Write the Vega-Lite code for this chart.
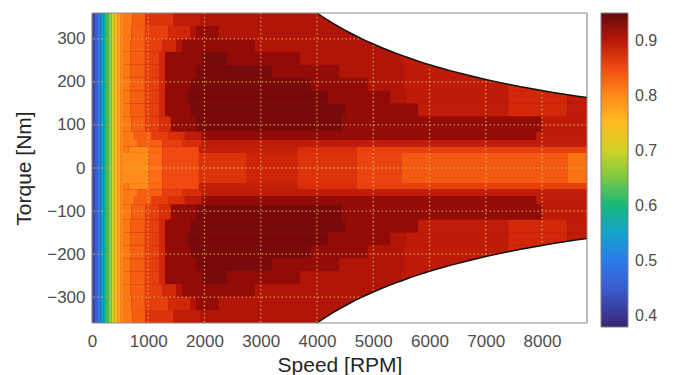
{
  "$schema": "https://vega.github.io/schema/vega-lite/v6.json",
  "width": 495,
  "height": 310,
  "autosize": {"type": "none"},
  "padding": {"left": 92, "top": 13, "right": 87, "bottom": 52},
  "background": "white",
  "config": {
    "view": {"stroke": null, "fill": "#a8140a"},
    "font": "Liberation Sans",
    "axis": {"labelFont": "Liberation Sans", "labelFontSize": 17, "labelColor": "#4d4d4d", "titleFont": "Liberation Sans", "titleFontSize": 21, "titleFontWeight": "normal", "titleColor": "#262626", "ticks": false, "domain": false, "grid": false, "labelFlush": false},
    "legend": {"labelFont": "Liberation Sans"}
  },
  "datasets": {
    "cells": [
      {"s0":0,"s1":50,"t0":-360,"t1":360,"e":0.42},
      {"s0":50,"s1":100,"t0":-360,"t1":360,"e":0.46},
      {"s0":100,"s1":150,"t0":-360,"t1":360,"e":0.50},
      {"s0":150,"s1":200,"t0":-360,"t1":360,"e":0.54},
      {"s0":200,"s1":250,"t0":-360,"t1":360,"e":0.58},
      {"s0":250,"s1":300,"t0":-360,"t1":360,"e":0.625},
      {"s0":300,"s1":350,"t0":-360,"t1":360,"e":0.665},
      {"s0":350,"s1":400,"t0":-360,"t1":360,"e":0.70},
      {"s0":400,"s1":450,"t0":-360,"t1":360,"e":0.745},
      {"s0":450,"s1":500,"t0":-360,"t1":360,"e":0.775},
      {"s0":500,"s1":550,"t0":-360,"t1":360,"e":0.80},

      {"s0":550,"s1":1000,"t0":-35,"t1":35,"e":0.80},
      {"s0":1000,"s1":1250,"t0":-35,"t1":35,"e":0.825},
      {"s0":1250,"s1":1900,"t0":-35,"t1":35,"e":0.85},
      {"s0":1900,"s1":2750,"t0":-35,"t1":35,"e":0.87},
      {"s0":2750,"s1":3650,"t0":-35,"t1":35,"e":0.885},
      {"s0":3650,"s1":4700,"t0":-35,"t1":35,"e":0.87},
      {"s0":4700,"s1":5500,"t0":-35,"t1":35,"e":0.855},
      {"s0":5500,"s1":8450,"t0":-35,"t1":35,"e":0.84},
      {"s0":8450,"s1":8800,"t0":-35,"t1":35,"e":0.82},

      {"s0":550,"s1":650,"t0":35,"t1":50,"e":0.815},
      {"s0":650,"s1":1000,"t0":35,"t1":50,"e":0.80},
      {"s0":1000,"s1":1250,"t0":35,"t1":50,"e":0.825},
      {"s0":1250,"s1":1900,"t0":35,"t1":50,"e":0.85},
      {"s0":1900,"s1":3650,"t0":35,"t1":50,"e":0.89},
      {"s0":3650,"s1":4700,"t0":35,"t1":50,"e":0.875},
      {"s0":4700,"s1":8800,"t0":35,"t1":50,"e":0.86},
      {"s0":550,"s1":650,"t0":-50,"t1":-35,"e":0.815},
      {"s0":650,"s1":1000,"t0":-50,"t1":-35,"e":0.80},
      {"s0":1000,"s1":1250,"t0":-50,"t1":-35,"e":0.825},
      {"s0":1250,"s1":1900,"t0":-50,"t1":-35,"e":0.85},
      {"s0":1900,"s1":3650,"t0":-50,"t1":-35,"e":0.89},
      {"s0":3650,"s1":4700,"t0":-50,"t1":-35,"e":0.875},
      {"s0":4700,"s1":8800,"t0":-50,"t1":-35,"e":0.86},

      {"s0":550,"s1":800,"t0":50,"t1":65,"e":0.815},
      {"s0":800,"s1":1250,"t0":50,"t1":65,"e":0.835},
      {"s0":1250,"s1":1600,"t0":50,"t1":65,"e":0.86},
      {"s0":1600,"s1":1950,"t0":50,"t1":65,"e":0.875},
      {"s0":1950,"s1":8800,"t0":50,"t1":65,"e":0.895},
      {"s0":550,"s1":800,"t0":-65,"t1":-50,"e":0.815},
      {"s0":800,"s1":1250,"t0":-65,"t1":-50,"e":0.835},
      {"s0":1250,"s1":1600,"t0":-65,"t1":-50,"e":0.86},
      {"s0":1600,"s1":1950,"t0":-65,"t1":-50,"e":0.875},
      {"s0":1950,"s1":8800,"t0":-65,"t1":-50,"e":0.895},

      {"s0":550,"s1":750,"t0":65,"t1":85,"e":0.815},
      {"s0":750,"s1":1050,"t0":65,"t1":85,"e":0.835},
      {"s0":1050,"s1":1350,"t0":65,"t1":85,"e":0.86},
      {"s0":1350,"s1":1650,"t0":65,"t1":85,"e":0.875},
      {"s0":1650,"s1":1950,"t0":65,"t1":85,"e":0.895},
      {"s0":1950,"s1":7900,"t0":65,"t1":85,"e":0.925},
      {"s0":7900,"s1":8800,"t0":65,"t1":85,"e":0.895},
      {"s0":550,"s1":750,"t0":-85,"t1":-65,"e":0.815},
      {"s0":750,"s1":1050,"t0":-85,"t1":-65,"e":0.835},
      {"s0":1050,"s1":1350,"t0":-85,"t1":-65,"e":0.86},
      {"s0":1350,"s1":1650,"t0":-85,"t1":-65,"e":0.875},
      {"s0":1650,"s1":1950,"t0":-85,"t1":-65,"e":0.895},
      {"s0":1950,"s1":7900,"t0":-85,"t1":-65,"e":0.925},
      {"s0":7900,"s1":8800,"t0":-85,"t1":-65,"e":0.895},

      {"s0":550,"s1":700,"t0":85,"t1":120,"e":0.815},
      {"s0":700,"s1":950,"t0":85,"t1":120,"e":0.835},
      {"s0":950,"s1":1200,"t0":85,"t1":120,"e":0.86},
      {"s0":1200,"s1":1400,"t0":85,"t1":120,"e":0.875},
      {"s0":1400,"s1":1850,"t0":85,"t1":120,"e":0.925},
      {"s0":1850,"s1":4450,"t0":85,"t1":120,"e":0.94},
      {"s0":4450,"s1":8000,"t0":85,"t1":120,"e":0.925},
      {"s0":8000,"s1":8800,"t0":85,"t1":120,"e":0.895},
      {"s0":550,"s1":700,"t0":-120,"t1":-85,"e":0.815},
      {"s0":700,"s1":950,"t0":-120,"t1":-85,"e":0.835},
      {"s0":950,"s1":1200,"t0":-120,"t1":-85,"e":0.86},
      {"s0":1200,"s1":1400,"t0":-120,"t1":-85,"e":0.875},
      {"s0":1400,"s1":1850,"t0":-120,"t1":-85,"e":0.925},
      {"s0":1850,"s1":4450,"t0":-120,"t1":-85,"e":0.94},
      {"s0":4450,"s1":8000,"t0":-120,"t1":-85,"e":0.925},
      {"s0":8000,"s1":8800,"t0":-120,"t1":-85,"e":0.895},

      {"s0":550,"s1":680,"t0":120,"t1":150,"e":0.815},
      {"s0":680,"s1":940,"t0":120,"t1":150,"e":0.835},
      {"s0":940,"s1":1200,"t0":120,"t1":150,"e":0.86},
      {"s0":1200,"s1":1300,"t0":120,"t1":150,"e":0.88},
      {"s0":1300,"s1":1750,"t0":120,"t1":150,"e":0.925},
      {"s0":1750,"s1":4500,"t0":120,"t1":150,"e":0.94},
      {"s0":4500,"s1":5800,"t0":120,"t1":150,"e":0.925},
      {"s0":5800,"s1":7400,"t0":120,"t1":150,"e":0.895},
      {"s0":7400,"s1":8450,"t0":120,"t1":150,"e":0.88},
      {"s0":8450,"s1":8800,"t0":120,"t1":150,"e":0.895},
      {"s0":550,"s1":680,"t0":-150,"t1":-120,"e":0.815},
      {"s0":680,"s1":940,"t0":-150,"t1":-120,"e":0.835},
      {"s0":940,"s1":1200,"t0":-150,"t1":-120,"e":0.86},
      {"s0":1200,"s1":1300,"t0":-150,"t1":-120,"e":0.88},
      {"s0":1300,"s1":1750,"t0":-150,"t1":-120,"e":0.925},
      {"s0":1750,"s1":4500,"t0":-150,"t1":-120,"e":0.94},
      {"s0":4500,"s1":5800,"t0":-150,"t1":-120,"e":0.925},
      {"s0":5800,"s1":7400,"t0":-150,"t1":-120,"e":0.895},
      {"s0":7400,"s1":8450,"t0":-150,"t1":-120,"e":0.88},
      {"s0":8450,"s1":8800,"t0":-150,"t1":-120,"e":0.895},

      {"s0":550,"s1":680,"t0":150,"t1":180,"e":0.815},
      {"s0":680,"s1":940,"t0":150,"t1":180,"e":0.835},
      {"s0":940,"s1":1200,"t0":150,"t1":180,"e":0.86},
      {"s0":1200,"s1":1300,"t0":150,"t1":180,"e":0.88},
      {"s0":1300,"s1":1700,"t0":150,"t1":180,"e":0.925},
      {"s0":1700,"s1":4200,"t0":150,"t1":180,"e":0.94},
      {"s0":4200,"s1":5300,"t0":150,"t1":180,"e":0.925},
      {"s0":5300,"s1":5600,"t0":150,"t1":180,"e":0.905},
      {"s0":5600,"s1":7400,"t0":150,"t1":180,"e":0.895},
      {"s0":7400,"s1":8450,"t0":150,"t1":180,"e":0.88},
      {"s0":8450,"s1":8800,"t0":150,"t1":180,"e":0.895},
      {"s0":550,"s1":680,"t0":-180,"t1":-150,"e":0.815},
      {"s0":680,"s1":940,"t0":-180,"t1":-150,"e":0.835},
      {"s0":940,"s1":1200,"t0":-180,"t1":-150,"e":0.86},
      {"s0":1200,"s1":1300,"t0":-180,"t1":-150,"e":0.88},
      {"s0":1300,"s1":1700,"t0":-180,"t1":-150,"e":0.925},
      {"s0":1700,"s1":4200,"t0":-180,"t1":-150,"e":0.94},
      {"s0":4200,"s1":5300,"t0":-180,"t1":-150,"e":0.925},
      {"s0":5300,"s1":5600,"t0":-180,"t1":-150,"e":0.905},
      {"s0":5600,"s1":7400,"t0":-180,"t1":-150,"e":0.895},
      {"s0":7400,"s1":8450,"t0":-180,"t1":-150,"e":0.88},
      {"s0":8450,"s1":8800,"t0":-180,"t1":-150,"e":0.895},

      {"s0":550,"s1":680,"t0":180,"t1":210,"e":0.815},
      {"s0":680,"s1":940,"t0":180,"t1":210,"e":0.835},
      {"s0":940,"s1":1200,"t0":180,"t1":210,"e":0.86},
      {"s0":1200,"s1":1300,"t0":180,"t1":210,"e":0.88},
      {"s0":1300,"s1":1750,"t0":180,"t1":210,"e":0.925},
      {"s0":1750,"s1":3900,"t0":180,"t1":210,"e":0.94},
      {"s0":3900,"s1":4900,"t0":180,"t1":210,"e":0.925},
      {"s0":4900,"s1":5550,"t0":180,"t1":210,"e":0.905},
      {"s0":5550,"s1":7400,"t0":180,"t1":210,"e":0.895},
      {"s0":7400,"s1":8000,"t0":180,"t1":210,"e":0.88},
      {"s0":550,"s1":680,"t0":-210,"t1":-180,"e":0.815},
      {"s0":680,"s1":940,"t0":-210,"t1":-180,"e":0.835},
      {"s0":940,"s1":1200,"t0":-210,"t1":-180,"e":0.86},
      {"s0":1200,"s1":1300,"t0":-210,"t1":-180,"e":0.88},
      {"s0":1300,"s1":1750,"t0":-210,"t1":-180,"e":0.925},
      {"s0":1750,"s1":3900,"t0":-210,"t1":-180,"e":0.94},
      {"s0":3900,"s1":4900,"t0":-210,"t1":-180,"e":0.925},
      {"s0":4900,"s1":5550,"t0":-210,"t1":-180,"e":0.905},
      {"s0":5550,"s1":7400,"t0":-210,"t1":-180,"e":0.895},
      {"s0":7400,"s1":8000,"t0":-210,"t1":-180,"e":0.88},

      {"s0":550,"s1":680,"t0":210,"t1":240,"e":0.815},
      {"s0":680,"s1":940,"t0":210,"t1":240,"e":0.835},
      {"s0":940,"s1":1200,"t0":210,"t1":240,"e":0.86},
      {"s0":1200,"s1":1300,"t0":210,"t1":240,"e":0.88},
      {"s0":1300,"s1":1850,"t0":210,"t1":240,"e":0.925},
      {"s0":1850,"s1":3200,"t0":210,"t1":240,"e":0.94},
      {"s0":3200,"s1":4400,"t0":210,"t1":240,"e":0.925},
      {"s0":4400,"s1":5550,"t0":210,"t1":240,"e":0.905},
      {"s0":5550,"s1":7000,"t0":210,"t1":240,"e":0.895},
      {"s0":550,"s1":680,"t0":-240,"t1":-210,"e":0.815},
      {"s0":680,"s1":940,"t0":-240,"t1":-210,"e":0.835},
      {"s0":940,"s1":1200,"t0":-240,"t1":-210,"e":0.86},
      {"s0":1200,"s1":1300,"t0":-240,"t1":-210,"e":0.88},
      {"s0":1300,"s1":1850,"t0":-240,"t1":-210,"e":0.925},
      {"s0":1850,"s1":3200,"t0":-240,"t1":-210,"e":0.94},
      {"s0":3200,"s1":4400,"t0":-240,"t1":-210,"e":0.925},
      {"s0":4400,"s1":5550,"t0":-240,"t1":-210,"e":0.905},
      {"s0":5550,"s1":7000,"t0":-240,"t1":-210,"e":0.895},

      {"s0":550,"s1":680,"t0":240,"t1":270,"e":0.815},
      {"s0":680,"s1":940,"t0":240,"t1":270,"e":0.835},
      {"s0":940,"s1":1200,"t0":240,"t1":270,"e":0.86},
      {"s0":1200,"s1":1300,"t0":240,"t1":270,"e":0.88},
      {"s0":1300,"s1":1950,"t0":240,"t1":270,"e":0.925},
      {"s0":1950,"s1":2400,"t0":240,"t1":270,"e":0.94},
      {"s0":2400,"s1":3700,"t0":240,"t1":270,"e":0.925},
      {"s0":3700,"s1":5500,"t0":240,"t1":270,"e":0.905},
      {"s0":5500,"s1":6000,"t0":240,"t1":270,"e":0.895},
      {"s0":550,"s1":680,"t0":-270,"t1":-240,"e":0.815},
      {"s0":680,"s1":940,"t0":-270,"t1":-240,"e":0.835},
      {"s0":940,"s1":1200,"t0":-270,"t1":-240,"e":0.86},
      {"s0":1200,"s1":1300,"t0":-270,"t1":-240,"e":0.88},
      {"s0":1300,"s1":1950,"t0":-270,"t1":-240,"e":0.925},
      {"s0":1950,"s1":2400,"t0":-270,"t1":-240,"e":0.94},
      {"s0":2400,"s1":3700,"t0":-270,"t1":-240,"e":0.925},
      {"s0":3700,"s1":5500,"t0":-270,"t1":-240,"e":0.905},
      {"s0":5500,"s1":6000,"t0":-270,"t1":-240,"e":0.895},

      {"s0":550,"s1":680,"t0":270,"t1":300,"e":0.815},
      {"s0":680,"s1":940,"t0":270,"t1":300,"e":0.835},
      {"s0":940,"s1":1250,"t0":270,"t1":300,"e":0.86},
      {"s0":1250,"s1":1500,"t0":270,"t1":300,"e":0.88},
      {"s0":1500,"s1":1600,"t0":270,"t1":300,"e":0.905},
      {"s0":1600,"s1":2900,"t0":270,"t1":300,"e":0.925},
      {"s0":2900,"s1":5300,"t0":270,"t1":300,"e":0.905},
      {"s0":550,"s1":680,"t0":-300,"t1":-270,"e":0.815},
      {"s0":680,"s1":940,"t0":-300,"t1":-270,"e":0.835},
      {"s0":940,"s1":1250,"t0":-300,"t1":-270,"e":0.86},
      {"s0":1250,"s1":1500,"t0":-300,"t1":-270,"e":0.88},
      {"s0":1500,"s1":1600,"t0":-300,"t1":-270,"e":0.905},
      {"s0":1600,"s1":2900,"t0":-300,"t1":-270,"e":0.925},
      {"s0":2900,"s1":5300,"t0":-300,"t1":-270,"e":0.905},

      {"s0":550,"s1":700,"t0":300,"t1":330,"e":0.815},
      {"s0":700,"s1":940,"t0":300,"t1":330,"e":0.835},
      {"s0":940,"s1":1350,"t0":300,"t1":330,"e":0.86},
      {"s0":1350,"s1":1750,"t0":300,"t1":330,"e":0.88},
      {"s0":1750,"s1":1850,"t0":300,"t1":330,"e":0.905},
      {"s0":1850,"s1":2250,"t0":300,"t1":330,"e":0.925},
      {"s0":2250,"s1":4800,"t0":300,"t1":330,"e":0.905},
      {"s0":550,"s1":700,"t0":-330,"t1":-300,"e":0.815},
      {"s0":700,"s1":940,"t0":-330,"t1":-300,"e":0.835},
      {"s0":940,"s1":1350,"t0":-330,"t1":-300,"e":0.86},
      {"s0":1350,"s1":1750,"t0":-330,"t1":-300,"e":0.88},
      {"s0":1750,"s1":1850,"t0":-330,"t1":-300,"e":0.905},
      {"s0":1850,"s1":2250,"t0":-330,"t1":-300,"e":0.925},
      {"s0":2250,"s1":4800,"t0":-330,"t1":-300,"e":0.905},

      {"s0":550,"s1":720,"t0":330,"t1":360,"e":0.815},
      {"s0":720,"s1":950,"t0":330,"t1":360,"e":0.835},
      {"s0":950,"s1":1440,"t0":330,"t1":360,"e":0.87},
      {"s0":1440,"s1":1920,"t0":330,"t1":360,"e":0.893},
      {"s0":1920,"s1":4400,"t0":330,"t1":360,"e":0.905},
      {"s0":550,"s1":720,"t0":-360,"t1":-330,"e":0.815},
      {"s0":720,"s1":950,"t0":-360,"t1":-330,"e":0.835},
      {"s0":950,"s1":1440,"t0":-360,"t1":-330,"e":0.87},
      {"s0":1440,"s1":1920,"t0":-360,"t1":-330,"e":0.893},
      {"s0":1920,"s1":4400,"t0":-360,"t1":-330,"e":0.905}
    ],
    "limit": [
      {"s":4000,"hi":360,"lo":-360},
      {"s":4200,"hi":342.9,"lo":-342.9},
      {"s":4400,"hi":327.3,"lo":-327.3},
      {"s":4600,"hi":313.0,"lo":-313.0},
      {"s":4800,"hi":300,"lo":-300},
      {"s":5000,"hi":288,"lo":-288},
      {"s":5200,"hi":276.9,"lo":-276.9},
      {"s":5400,"hi":266.7,"lo":-266.7},
      {"s":5600,"hi":257.1,"lo":-257.1},
      {"s":5800,"hi":248.3,"lo":-248.3},
      {"s":6000,"hi":240,"lo":-240},
      {"s":6200,"hi":232.3,"lo":-232.3},
      {"s":6400,"hi":225,"lo":-225},
      {"s":6600,"hi":218.2,"lo":-218.2},
      {"s":6800,"hi":211.8,"lo":-211.8},
      {"s":7000,"hi":205.7,"lo":-205.7},
      {"s":7200,"hi":200,"lo":-200},
      {"s":7400,"hi":194.6,"lo":-194.6},
      {"s":7600,"hi":189.5,"lo":-189.5},
      {"s":7800,"hi":184.6,"lo":-184.6},
      {"s":8000,"hi":180,"lo":-180},
      {"s":8200,"hi":175.6,"lo":-175.6},
      {"s":8400,"hi":171.4,"lo":-171.4},
      {"s":8600,"hi":167.4,"lo":-167.4},
      {"s":8800,"hi":163.6,"lo":-163.6}
    ],
    "vg": [{"s":1000},{"s":2000},{"s":3000},{"s":4000},{"s":5000},{"s":6000},{"s":7000},{"s":8000}],
    "hg": [{"t":-300},{"t":-200},{"t":-100},{"t":0},{"t":100},{"t":200},{"t":300}],
    "frame": [{"s":0,"t":-360,"s2":8800,"t2":-360},{"s":0,"t":360,"s2":8800,"t2":360},{"s":0,"t":-360,"s2":0,"t2":360},{"s":8800,"t":-360,"s2":8800,"t2":360}]
  },
  "layer": [
    {
      "data": {"name": "cells"},
      "mark": {"type": "rect"},
      "encoding": {
        "x": {"field": "s0", "type": "quantitative", "title": "Speed [RPM]",
              "scale": {"domain": [0, 8800], "nice": false, "zero": false},
              "axis": {"values": [0,1000,2000,3000,4000,5000,6000,7000,8000], "format": "d", "labelPadding": 10, "titlePadding": 5}},
        "x2": {"field": "s1"},
        "y": {"field": "t0", "type": "quantitative", "title": "Torque [Nm]",
              "scale": {"domain": [-360, 360], "nice": false},
              "axis": {"values": [-300,-200,-100,0,100,200,300], "format": "d", "labelPadding": 7, "titlePadding": 12}},
        "y2": {"field": "t1"},
        "color": {"field": "e", "type": "quantitative",
                 "scale": {"domain": [0.38,0.40,0.45,0.50,0.525,0.55,0.575,0.60,0.625,0.65,0.675,0.70,0.725,0.75,0.775,0.80,0.825,0.85,0.875,0.90,0.925,0.95],
                           "range": ["#34246a","#3a3592","#3a5ccc","#2b7bea","#1f8fe0","#15a2cc","#10b0a6","#16b77c","#3fbf58","#78c844","#a8cf32","#d0d226","#efc822","#ffbb22","#ffa41e","#ff8b1a","#fb6c14","#ef4b10","#d82c0a","#b71708","#920b06","#660a0c"]},
                 "legend": {"type": "gradient", "direction": "vertical", "title": null, "orient": "right", "offset": 14, "gradientLength": 314, "gradientThickness": 27, "labelFontSize": 16, "labelColor": "#4d4d4d", "labelOffset": 7, "gradientStrokeColor": "#808080", "gradientStrokeWidth": 1, "values": [0.4,0.5,0.6,0.7,0.8,0.9], "padding": 0}}
      }
    },
    {
      "data": {"name": "vg"},
      "mark": {"type": "rule", "color": "#dcae52", "strokeDash": [1.3, 2.7], "strokeWidth": 1.3},
      "encoding": {"x": {"field": "s", "type": "quantitative", "title": "Speed [RPM]"}}
    },
    {
      "data": {"name": "hg"},
      "mark": {"type": "rule", "color": "#dcae52", "strokeDash": [1.3, 2.7], "strokeWidth": 1.3},
      "encoding": {"y": {"field": "t", "type": "quantitative", "title": "Torque [Nm]"}}
    },
    {
      "data": {"name": "limit"},
      "mark": {"type": "area", "color": "white", "interpolate": "monotone"},
      "encoding": {
        "x": {"field": "s", "type": "quantitative", "title": "Speed [RPM]"},
        "y": {"field": "hi", "type": "quantitative", "title": "Torque [Nm]"},
        "y2": {"datum": 360}
      }
    },
    {
      "data": {"name": "limit"},
      "mark": {"type": "area", "color": "white", "interpolate": "monotone"},
      "encoding": {
        "x": {"field": "s", "type": "quantitative", "title": "Speed [RPM]"},
        "y": {"field": "lo", "type": "quantitative", "title": "Torque [Nm]"},
        "y2": {"datum": -360}
      }
    },
    {
      "data": {"name": "limit"},
      "mark": {"type": "line", "color": "#111111", "strokeWidth": 1.5, "interpolate": "monotone"},
      "encoding": {
        "x": {"field": "s", "type": "quantitative", "title": "Speed [RPM]"},
        "y": {"field": "hi", "type": "quantitative", "title": "Torque [Nm]"}
      }
    },
    {
      "data": {"name": "limit"},
      "mark": {"type": "line", "color": "#111111", "strokeWidth": 1.5, "interpolate": "monotone"},
      "encoding": {
        "x": {"field": "s", "type": "quantitative", "title": "Speed [RPM]"},
        "y": {"field": "lo", "type": "quantitative", "title": "Torque [Nm]"}
      }
    },
    {
      "data": {"name": "frame"},
      "mark": {"type": "rule", "color": "#8a8a8a", "strokeWidth": 1.2},
      "encoding": {
        "x": {"field": "s", "type": "quantitative", "title": "Speed [RPM]"},
        "x2": {"field": "s2"},
        "y": {"field": "t", "type": "quantitative", "title": "Torque [Nm]"},
        "y2": {"field": "t2"}
      }
    }
  ]
}
